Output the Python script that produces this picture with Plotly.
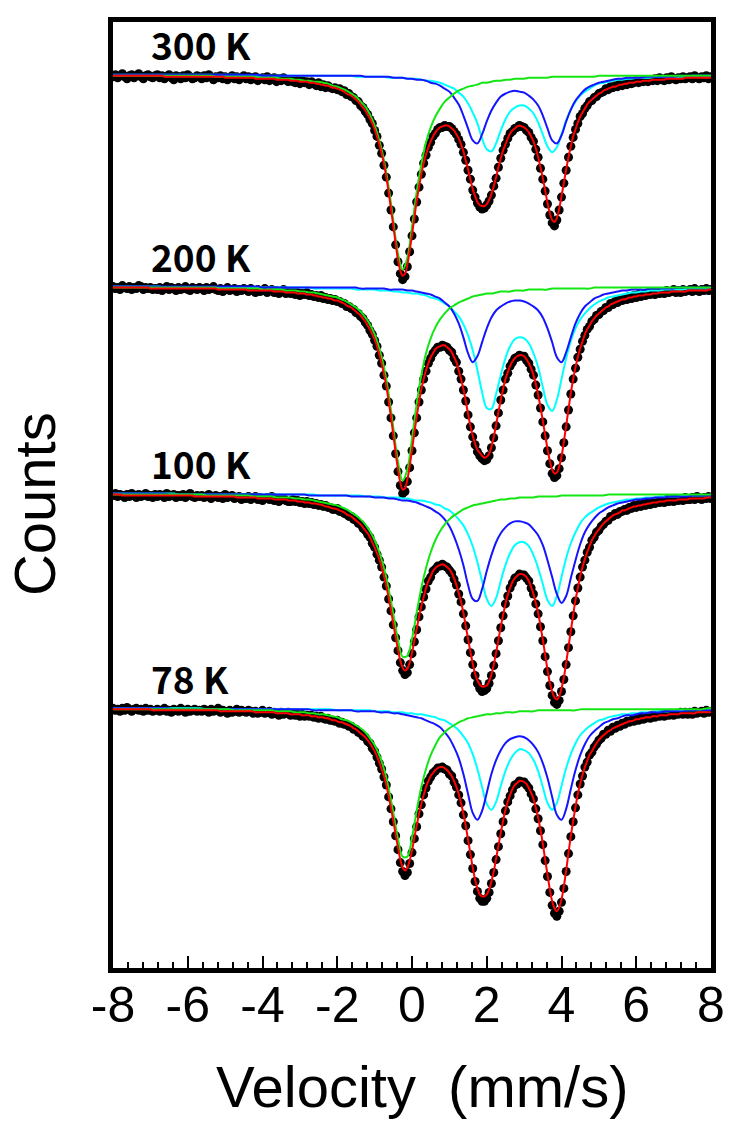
import plotly.graph_objects as go

temperatures = ["300 K", "200 K", "100 K", "78 K"]
baselines = [1.000, 0.787, 0.579, 0.363]

# Measured spectra: absorption below baseline (per mille), channels every 1/16 mm/s from -8 mm/s
counts_300K = [2,0,3,1,-1,2,4,1,0,3,1,-1,2,4,1,0,2,3,1,
               0,3,1,4,2,0,3,5,1,2,4,1,3,0,2,4,3,1,2,
               4,1,3,0,2,5,2,3,1,4,2,5,3,1,4,2,5,3,1,
               4,2,5,3,2,6,4,3,5,2,6,4,3,7,4,6,3,5,7,
               5,7,8,5,9,6,8,7,10,7,9,11,8,12,10,13,11,13,14,
               13,15,14,17,16,20,19,22,23,26,27,31,33,37,40,45,49,56,62,
               71,79,91,103,119,136,153,171,188,200,206,203,193,178,162,145,128,113,100,
               89,81,73,68,62,59,55,53,53,51,52,52,54,57,60,65,70,78,86,
               96,105,116,123,129,133,135,134,131,127,121,112,104,93,84,76,70,64,59,
               57,54,53,51,52,53,56,58,63,67,75,83,94,105,117,130,141,149,152,
               146,136,123,109,96,83,72,63,55,49,42,39,34,31,27,26,23,22,19,
               18,17,14,15,12,13,11,12,9,11,8,10,7,9,8,6,8,6,7,
               5,7,5,6,4,6,3,5,6,3,5,2,4,5,3,4,2,4,3,
               2,4,1,3,4,2,3,1,4,2]
counts_200K = [0,2,1,3,-1,1,2,0,3,1,2,-1,0,3,1,2,1,3,2,
               3,1,4,2,0,3,1,2,4,1,3,2,0,3,4,1,2,3,1,
               2,4,1,3,2,0,3,4,2,5,3,1,4,3,2,5,3,4,2,
               3,5,2,4,6,3,5,4,2,6,4,3,6,4,7,5,3,7,5,
               7,5,8,6,9,7,8,6,9,8,10,9,11,9,12,11,13,12,14,
               13,15,15,17,17,20,20,22,23,26,27,30,32,36,39,44,48,54,60,
               69,77,89,100,116,132,150,168,186,200,208,206,196,182,165,147,132,116,104,
               93,85,77,72,67,64,61,61,59,60,61,64,66,72,76,85,93,104,115,
               129,141,151,159,166,170,173,175,174,170,162,152,140,127,114,104,93,87,80,
               76,72,71,69,70,70,74,77,83,89,99,109,122,136,150,165,178,188,192,
               190,183,172,157,141,124,108,93,82,71,63,55,49,43,40,35,33,29,28,
               25,24,21,21,17,18,15,16,13,14,12,13,10,12,9,11,8,10,8,
               9,7,8,6,8,6,7,5,7,4,6,5,3,6,4,6,3,5,4,
               3,5,2,4,5,3,4,2,4,3]
counts_100K = [2,0,3,1,2,4,1,3,0,2,4,1,3,2,0,3,2,4,1,
               3,1,2,4,0,3,2,1,4,2,3,1,4,2,0,3,4,2,3,
               2,4,3,1,5,3,2,4,3,5,1,4,3,2,5,4,3,6,4,
               5,3,6,4,3,6,4,7,5,4,6,3,7,5,8,6,5,7,8,
               8,6,8,7,9,8,10,8,10,9,11,10,12,11,13,12,14,14,16,
               16,15,18,18,20,21,23,23,26,27,30,31,35,37,41,44,50,54,61,
               67,74,84,93,106,118,132,145,158,170,178,182,180,172,161,149,137,124,114,
               104,96,88,84,78,76,73,73,71,73,74,77,80,86,92,101,109,121,133,
               147,160,172,183,191,196,199,198,196,191,183,173,161,148,135,123,111,103,95,
               90,85,84,81,82,82,85,88,95,101,111,121,134,148,164,179,193,203,210,
               212,208,199,187,172,155,139,123,108,95,84,74,67,59,54,47,44,39,37,
               33,31,28,27,23,23,20,21,18,18,16,17,14,15,12,14,11,13,10,
               12,9,11,8,10,8,9,7,9,6,8,6,8,5,7,5,7,4,6,
               6,4,6,3,5,6,4,5,3,5]
counts_78K = [0,2,1,3,0,2,-1,1,3,1,0,2,1,3,0,2,1,3,2,
              1,3,2,0,3,2,4,1,2,3,0,2,4,1,3,2,1,3,2,
              3,1,2,4,1,3,2,0,4,2,3,5,2,4,3,1,4,2,3,
              4,2,3,5,3,5,4,2,5,4,3,6,4,5,7,4,6,5,4,
              7,5,7,6,8,6,8,7,8,7,9,8,10,8,10,11,10,12,12,
              13,12,15,14,16,16,18,18,21,21,24,25,28,29,33,35,40,43,49,
              55,61,69,77,89,101,114,128,142,155,164,168,165,156,145,131,119,106,97,
              87,80,73,69,65,63,60,60,59,61,62,66,68,74,79,87,95,107,118,
              133,147,161,174,184,191,194,194,191,185,176,165,152,139,126,114,103,94,88,
              82,77,76,73,74,74,77,80,86,91,101,111,123,137,153,169,185,198,206,
              209,204,195,181,164,146,129,114,100,87,76,68,59,54,47,44,39,36,32,
              30,26,26,22,23,19,20,17,18,15,16,13,14,12,13,10,12,9,11,
              10,8,10,7,9,7,8,6,8,6,7,5,7,5,6,4,6,4,6,
              4,6,3,5,4,3,5,2,4,3]

# Total fits (per mille), same 1/16 mm/s channels
fit_300K = [1,1,1,1,1,1,1,1,1,1,1,1,1,1,1,1,1,1,1,
            1,1,1,2,2,2,2,2,2,2,2,2,2,2,2,2,2,2,2,
            2,2,2,2,2,2,2,2,2,2,3,3,3,3,3,3,3,3,3,
            3,3,3,3,4,4,4,4,4,4,4,4,4,5,5,5,5,5,5,
            6,6,6,6,7,7,7,7,8,8,8,9,9,10,10,11,11,12,13,
            13,14,15,16,17,19,20,21,23,25,27,30,33,36,40,44,49,55,62,
            70,79,90,103,118,135,152,170,186,197,202,200,191,177,161,144,127,113,100,
            89,80,73,67,62,58,55,53,52,51,51,52,54,56,60,64,70,77,86,
            95,105,115,122,128,131,132,132,130,126,120,112,103,93,84,76,70,64,59,
            56,54,52,51,52,53,55,58,62,67,74,83,93,104,116,129,139,146,148,
            144,135,122,109,95,83,72,62,55,48,42,38,34,30,27,25,23,21,19,
            18,16,15,14,13,12,12,11,10,10,9,9,8,8,8,7,7,7,6,
            6,6,6,5,5,5,5,5,5,4,4,4,4,4,4,4,4,3,3,
            3,3,3,3,3,3,3,3,3,3]
fit_200K = [1,1,1,1,1,1,1,1,1,1,1,1,1,1,1,1,2,2,2,
            2,2,2,2,2,2,2,2,2,2,2,2,2,2,2,2,2,2,2,
            2,2,2,2,2,2,2,3,3,3,3,3,3,3,3,3,3,3,3,
            3,4,4,4,4,4,4,4,4,4,4,4,5,5,5,5,5,6,6,
            6,6,6,7,7,7,7,8,8,8,9,9,10,10,11,11,12,12,13,
            14,14,15,16,17,19,20,21,23,25,27,29,32,35,39,43,48,53,60,
            68,77,88,100,115,131,149,167,184,197,204,203,194,181,164,147,131,116,103,
            93,84,77,71,67,63,61,60,59,59,61,63,66,71,76,84,93,103,115,
            128,140,150,158,164,167,170,172,171,168,161,151,139,126,114,103,93,86,80,
            75,72,70,69,69,70,73,77,82,89,98,109,121,135,149,163,175,184,188,
            187,181,171,156,140,123,107,93,81,71,62,55,48,43,39,35,32,29,27,
            25,23,21,20,18,17,16,15,14,13,13,12,11,11,10,10,9,9,9,
            8,8,8,7,7,7,6,6,6,6,6,5,5,5,5,5,5,5,4,
            4,4,4,4,4,4,4,4,3,3]
fit_100K = [1,1,1,1,2,2,2,2,2,2,2,2,2,2,2,2,2,2,2,
            2,2,2,2,2,2,2,2,2,2,2,2,2,2,2,2,3,3,3,
            3,3,3,3,3,3,3,3,3,3,3,3,3,3,3,4,4,4,4,
            4,4,4,4,4,5,5,5,5,5,5,5,6,6,6,6,6,6,7,
            7,7,7,8,8,8,9,9,9,10,10,10,11,11,12,13,13,14,15,
            15,16,17,18,19,21,22,23,25,27,29,31,34,37,40,44,49,54,60,
            66,74,83,93,105,117,131,144,157,168,175,178,176,170,160,148,136,124,113,
            104,95,88,83,78,75,73,72,71,72,74,76,80,85,92,100,109,120,133,
            146,159,171,181,188,192,194,194,193,189,182,172,160,147,134,122,111,102,95,
            89,85,83,81,81,82,84,88,94,101,110,120,133,147,162,177,190,199,205,
            207,204,196,185,170,154,138,122,107,95,83,74,66,59,53,47,43,39,36,
            33,30,28,26,24,22,21,20,19,17,17,16,15,14,13,13,12,12,11,
            11,10,10,9,9,9,8,8,8,7,7,7,7,7,6,6,6,6,6,
            5,5,5,5,5,5,5,4,4,4]
fit_78K = [1,1,1,1,1,1,1,1,1,1,1,1,1,1,1,1,1,2,2,
           2,2,2,2,2,2,2,2,2,2,2,2,2,2,2,2,2,2,2,
           2,2,2,2,2,2,2,2,3,3,3,3,3,3,3,3,3,3,3,
           3,3,3,3,4,4,4,4,4,4,4,4,4,5,5,5,5,5,5,
           6,6,6,6,6,7,7,7,7,8,8,8,9,9,9,10,10,11,12,
           12,13,14,14,15,16,17,18,20,21,23,25,27,29,32,35,39,43,48,
           54,61,68,77,88,100,113,127,140,152,160,163,160,153,143,130,118,106,96,
           87,79,73,68,65,62,60,59,59,60,62,65,68,73,79,86,95,106,118,
           132,146,160,172,181,187,189,189,187,182,174,164,151,138,125,113,102,94,87,
           81,77,75,73,73,74,76,80,85,91,100,110,122,136,152,167,182,194,201,
           204,200,192,179,163,145,128,113,99,86,76,67,59,53,47,43,39,35,32,
           29,27,25,23,22,20,19,18,17,16,15,14,13,13,12,11,11,10,10,
           9,9,9,8,8,8,7,7,7,7,6,6,6,6,6,5,5,5,5,
           5,5,5,4,4,4,4,4,4,4]

# Fit components (per mille), every 1/8 mm/s from -8 mm/s
green_300K = [1,1,1,1,1,1,1,1,1,1,1,1,1,1,1,1,1,1,1,
              1,1,1,2,2,2,2,2,2,2,2,2,3,3,3,3,3,4,4,
              4,5,5,6,6,7,7,8,9,11,12,14,16,19,22,27,32,40,51,
              66,86,113,147,180,196,184,153,118,90,68,53,42,34,27,23,19,16,14,
              12,11,10,8,8,7,6,6,5,5,4,4,4,3,3,3,3,3,2,
              2,2,2,2,2,2,2,2,2,1,1,1,1,1,1,1,1,1,1,
              1,1,1,1,1,1,1,1,1,1,1,1,1,1,1]
green_200K = [1,1,1,1,1,1,1,1,1,1,1,1,1,1,1,1,1,1,1,
              1,1,1,1,2,2,2,2,2,2,2,2,2,3,3,3,3,3,4,
              4,4,5,5,6,6,7,8,9,10,11,13,15,18,21,25,31,38,48,
              62,81,108,142,176,195,184,153,118,89,67,52,41,33,27,22,19,16,14,
              12,10,9,8,7,7,6,5,5,5,4,4,4,3,3,3,3,3,2,
              2,2,2,2,2,2,2,2,1,1,1,1,1,1,1,1,1,1,1,
              1,1,1,1,1,1,1,1,1,1,1,1,1,1,1]
green_100K = [1,1,1,1,1,1,1,1,1,1,1,1,1,1,1,1,1,1,1,
              1,2,2,2,2,2,2,2,2,2,2,3,3,3,3,3,4,4,4,
              4,5,5,6,6,7,8,9,10,11,12,14,16,19,22,26,31,38,47,
              59,75,96,121,147,164,163,146,120,95,75,59,47,38,31,26,22,19,16,
              14,12,11,10,9,8,7,6,6,5,5,4,4,4,4,3,3,3,3,
              3,2,2,2,2,2,2,2,2,2,2,1,1,1,1,1,1,1,1,
              1,1,1,1,1,1,1,1,1,1,1,1,1,1,1]
green_78K = [1,1,1,1,1,1,1,1,1,1,1,1,1,1,1,1,1,1,1,
             1,1,1,1,1,1,1,2,2,2,2,2,2,2,2,2,3,3,3,
             3,4,4,4,5,5,6,6,7,8,9,11,12,14,17,20,24,30,37,
             47,61,80,105,131,149,149,130,103,79,61,47,37,29,24,20,17,14,12,
             10,9,8,7,6,6,5,5,4,4,4,3,3,3,3,2,2,2,2,
             2,2,2,2,2,1,1,1,1,1,1,1,1,1,1,1,1,1,1,
             1,1,1,1,1,1,1,1,1,1,1,1,1,0,0]

blue_300K = [0,0,0,0,0,0,0,0,0,0,0,0,0,0,0,0,0,0,0,
             0,0,0,0,0,0,0,0,0,0,0,0,0,1,1,1,1,1,1,
             1,1,1,1,1,1,1,1,1,1,1,1,1,1,1,1,2,2,2,
             2,2,2,3,3,3,4,4,5,5,6,8,9,11,14,17,23,30,41,
             54,66,69,60,47,36,28,22,19,17,16,17,18,21,25,31,41,54,66,
             69,61,47,35,26,20,15,12,10,8,7,6,5,4,4,3,3,3,3,
             2,2,2,2,2,2,2,1,1,1,1,1,1,1,1]
blue_200K = [0,0,0,0,0,0,0,0,0,0,0,0,0,0,0,0,0,0,0,
             0,0,0,0,0,0,0,0,0,0,0,0,0,1,1,1,1,1,1,
             1,1,1,1,1,1,1,1,1,1,1,1,1,1,1,2,2,2,2,
             2,2,3,3,3,3,4,4,5,6,7,8,10,12,16,20,27,37,51,
             67,76,70,56,42,31,24,20,17,15,14,14,15,17,20,24,31,42,56,
             71,76,66,51,37,27,20,16,12,10,8,7,6,5,4,4,3,3,3,
             3,2,2,2,2,2,2,1,1,1,1,1,1,1,1]
blue_100K = [0,0,0,0,0,0,0,0,0,0,0,0,1,1,1,1,1,1,1,
             1,1,1,1,1,1,1,1,1,1,1,1,1,1,1,1,1,1,1,
             1,1,1,1,2,2,2,2,2,2,2,2,2,3,3,3,3,3,4,
             4,4,5,5,6,7,7,8,9,11,13,15,18,21,26,33,43,56,72,
             92,106,108,96,78,62,49,40,34,30,28,28,29,31,36,42,52,67,84,
             101,110,103,85,67,51,39,31,25,20,17,14,12,10,9,8,7,6,6,
             5,5,4,4,4,3,3,3,3,3,2,2,2,2,2]
blue_78K = [0,0,0,0,0,0,0,0,0,0,0,0,0,1,1,1,1,1,1,
            1,1,1,1,1,1,1,1,1,1,1,1,1,1,1,1,1,1,1,
            1,1,1,1,1,2,2,2,2,2,2,2,2,2,3,3,3,3,3,
            4,4,4,5,5,6,7,8,9,10,12,14,16,19,24,30,39,50,66,
            86,105,112,103,85,66,52,42,35,31,29,28,29,32,37,44,55,70,89,
            107,112,101,81,62,47,36,28,23,19,15,13,11,10,8,7,7,6,5,
            5,4,4,4,3,3,3,3,3,2,2,2,2,2,2]

cyan_300K = [0,0,0,0,0,0,0,0,0,0,0,0,0,0,0,0,
             0,0,0,0,0,0,0,0,0,0,0,0,1,1,1,1,
             1,1,1,1,1,1,1,1,1,1,1,1,1,1,1,1,
             1,1,1,1,2,2,2,2,2,2,2,3,3,3,3,4,
             4,4,5,6,6,7,8,10,12,14,18,22,29,38,49,64,
             75,77,69,56,45,37,33,31,31,34,39,48,60,72,78,73,
             60,46,35,27,21,17,14,11,9,8,7,6,5,5,4,4,
             3,3,3,3,2,2,2,2,2,2,2,2,1,1,1,1,
             1]
cyan_200K = [0,0,0,0,0,0,0,0,0,0,0,1,1,1,1,1,
             1,1,1,1,1,1,1,1,1,1,1,1,1,1,1,1,
             1,1,1,1,1,1,1,1,1,1,1,2,2,2,2,2,
             2,2,2,2,3,3,3,3,3,4,4,4,5,5,6,6,
             7,7,8,9,11,12,14,17,20,25,30,38,49,64,84,106,
             122,123,108,89,72,60,53,51,52,57,67,81,101,119,125,114,
             93,72,55,42,33,27,22,18,15,13,11,10,9,8,7,6,
             6,5,5,4,4,4,3,3,3,3,3,2,2,2,2,2,
             2]
cyan_100K = [0,0,0,0,0,0,0,0,0,0,0,0,0,0,1,1,
             1,1,1,1,1,1,1,1,1,1,1,1,1,1,1,1,
             1,1,1,1,1,1,1,1,1,1,1,1,2,2,2,2,
             2,2,2,2,2,2,3,3,3,3,4,4,4,4,5,5,
             6,7,7,8,9,11,12,15,17,21,26,32,41,53,69,88,
             106,113,105,88,72,60,52,49,49,53,62,75,91,107,113,103,
             84,65,50,39,30,24,20,17,14,12,10,9,8,7,6,6,
             5,5,4,4,4,3,3,3,3,3,2,2,2,2,2,2,
             2]
cyan_78K = [0,0,0,0,0,0,0,0,0,0,0,0,0,0,0,0,
            0,0,0,0,1,1,1,1,1,1,1,1,1,1,1,1,
            1,1,1,1,1,1,1,1,1,1,1,1,1,1,1,1,
            2,2,2,2,2,2,2,2,3,3,3,3,4,4,4,5,
            5,6,6,7,8,9,11,12,15,18,22,28,35,46,61,79,
            96,102,94,78,63,52,45,41,42,45,52,63,79,95,102,95,
            78,60,46,35,27,22,18,15,12,11,9,8,7,6,6,5,
            5,4,4,4,3,3,3,3,2,2,2,2,2,2,2,2,
            1]

spectra = [
    (counts_300K, fit_300K, green_300K, blue_300K, cyan_300K),
    (counts_200K, fit_200K, green_200K, blue_200K, cyan_200K),
    (counts_100K, fit_100K, green_100K, blue_100K, cyan_100K),
    (counts_78K, fit_78K, green_78K, blue_78K, cyan_78K),
]

fig = go.Figure()
for (counts, fit, green, blue, cyan), base, label in zip(spectra, baselines, temperatures):
    fig.add_trace(go.Scatter(x0=-8, dx=0.0625, y=[base - a / 1000 for a in counts], mode="markers",
                             marker=dict(color="black", size=9), name=label))
    for comp, col in [(cyan, "#00ffff"), (blue, "#1414ff"), (green, "#14e614")]:
        fig.add_trace(go.Scatter(x0=-8, dx=0.125, y=[base - a / 1000 for a in comp], mode="lines",
                                 line=dict(color=col, width=2, shape="spline")))
    fig.add_trace(go.Scatter(x0=-8, dx=0.0625, y=[base - a / 1000 for a in fit], mode="lines",
                             line=dict(color="#ff0000", width=2, shape="spline")))
    fig.add_annotation(x=-7.05, y=base + 0.031, xref="x", yref="y", text=label, showarrow=False,
                       xanchor="left", yanchor="middle",
                       font=dict(family="Noto Sans CJK JP", size=37, color="black", weight=600))

fig.update_layout(width=726, height=1125, margin=dict(l=105, r=16, t=9, b=165),
                  plot_bgcolor="white", paper_bgcolor="white", showlegend=False)
fig.update_xaxes(range=[-8, 8], tickmode="array", tickvals=[-8, -6, -4, -2, 0, 2, 4, 6, 8],
                 ticktext=["-8", "-6", "-4", "-2", "0", "2", "4", "6", "8"],
                 ticks="inside", ticklen=12, tickwidth=2, tickcolor="black", ticklabelstandoff=-11,
                 minor=dict(tickmode="linear", tick0=-8, dtick=0.4, ticks="inside", ticklen=6,
                            tickwidth=2, tickcolor="black"),
                 showline=True, linewidth=5, linecolor="black", mirror=True, showgrid=False, zeroline=False,
                 tickfont=dict(family="Liberation Sans, Arial", size=50, color="black"))
fig.update_yaxes(range=[0.102, 1.053], showticklabels=False, ticks="", showline=True, linewidth=5,
                 linecolor="black", mirror=True, showgrid=False, zeroline=False)
fig.add_annotation(x=-0.1310, y=0.49, xref="paper", yref="paper", text="Counts", textangle=-90,
                   xanchor="center", yanchor="middle", showarrow=False,
                   font=dict(family="Liberation Sans, Arial", size=58, color="black"))
fig.add_annotation(x=0.5174, y=-0.1251, xref="paper", yref="paper", text="Velocity\u00a0\u00a0(mm/s)",
                   xanchor="center", yanchor="middle", showarrow=False,
                   font=dict(family="Liberation Sans, Arial", size=58, color="black"))
fig.write_html("out.html")
